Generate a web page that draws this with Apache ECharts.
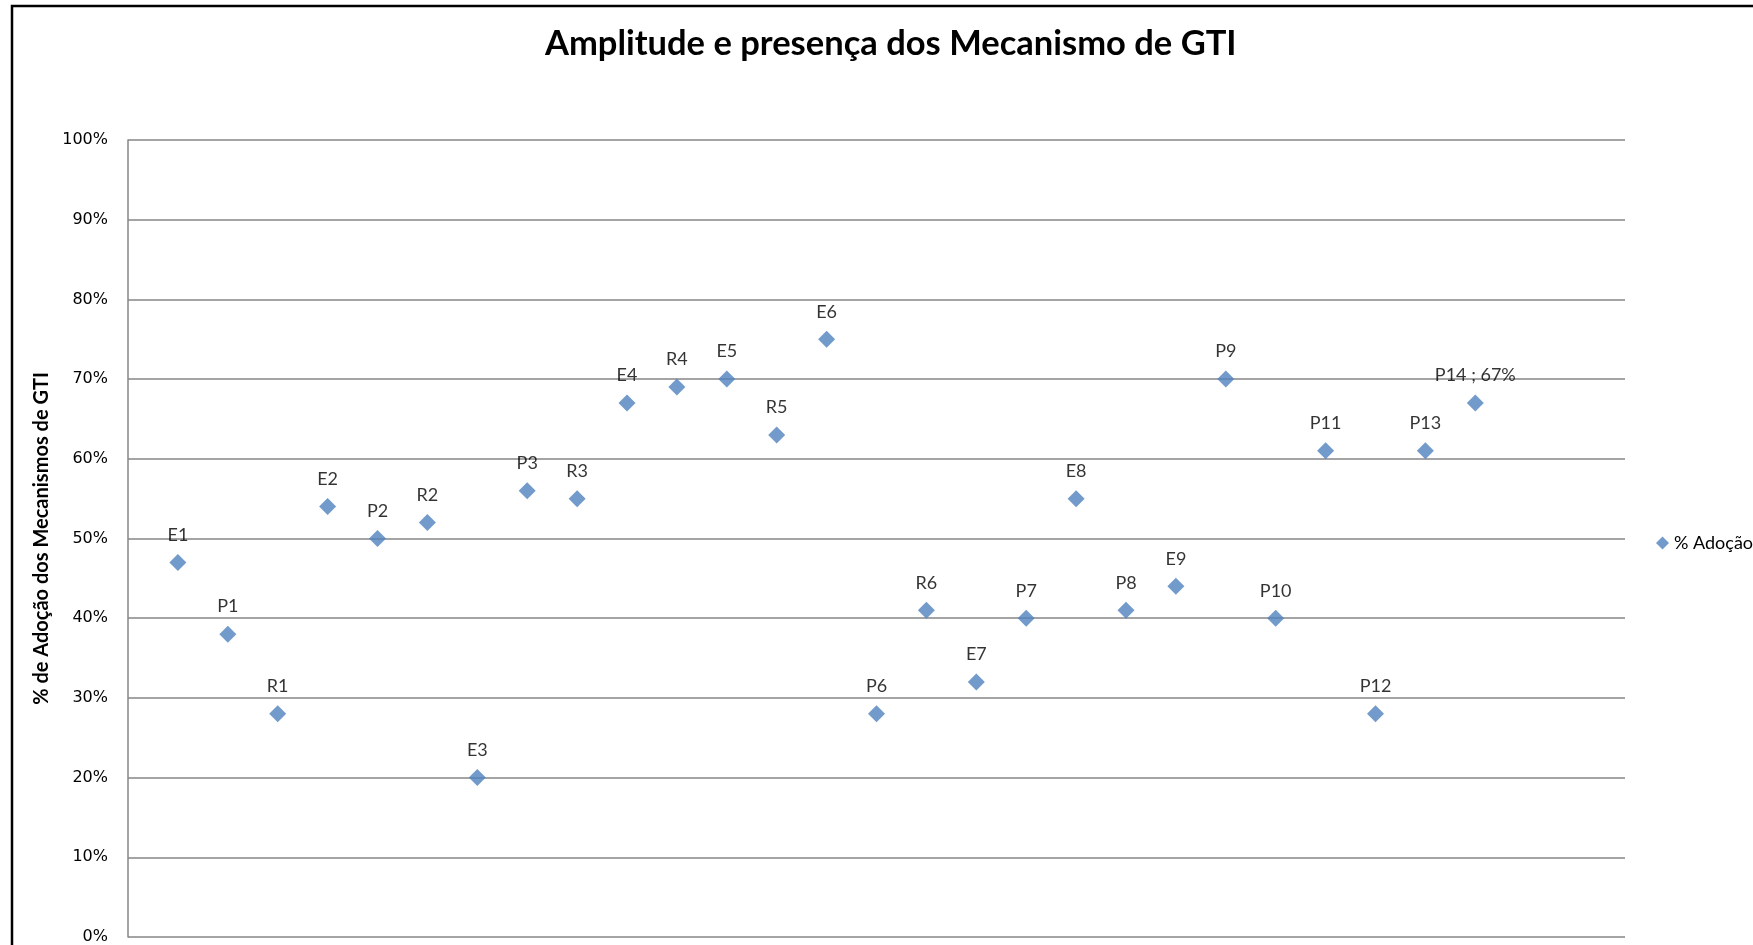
<!DOCTYPE html>
<html>
<head>
<meta charset="utf-8">
<script src="https://cdn.jsdelivr.net/npm/echarts@6/dist/echarts.min.js"></script>
<style>
html,body{margin:0;padding:0;background:#fff;}
#chart{width:1753px;height:945px;}
</style>
</head>
<body>
<div id="chart"></div>
<script>
// Data
const pointNames = ['E1','P1','R1','E2','P2','R2','E3','P3','R3','E4','R4','E5','R5','E6','P6','R6','E7','P7','E8','P8','E9','P9','P10','P11','P12','P13','P14'];
const xPositions = [1,2,3,4,5,6,7,8,9,10,11,12,13,14,15,16,17,18,19,20,21,22,23,24,25,26,27];
const adoptionPct = [47,38,28,54,50,52,20,56,55,67,69,70,63,75,28,41,32,40,55,41,44,70,40,61,28,61,67];
const namesWithValue = ['P14'];
const yTicks = [0,10,20,30,40,50,60,70,80,90,100];

const seriesData = pointNames.map((n, i) => ({ name: n, value: [xPositions[i], adoptionPct[i]] }));

const chart = echarts.init(document.getElementById('chart'), null, { renderer: 'canvas' });
chart.setOption({
  animation: false,
  backgroundColor: '#fff',
  title: {
    text: 'Amplitude e presença dos Mecanismo de GTI',
    left: 540,
    top: 21,
    textStyle: { fontFamily: 'Lato', fontWeight: 'bold', fontSize: 34.5, color: '#000' }
  },
  legend: {
    data: [{ name: '% Adoção', icon: 'diamond' }],
    left: 1651,
    top: 529,
    itemWidth: 13,
    itemHeight: 13,
    itemGap: 4,
    textStyle: { fontFamily: 'Lato', fontSize: 18, color: '#000' }
  },
  graphic: [{
    type: 'rect',
    shape: { x: 12, y: 6, width: 1800, height: 1000 },
    style: { fill: 'none', stroke: '#000', lineWidth: 2.5 },
    z: 100
  }],
  grid: { left: 128, top: 140, right: 128, bottom: 6, containLabel: false },
  xAxis: {
    type: 'value',
    min: 0, max: 30,
    axisLine: { show: false },
    axisTick: { show: false },
    axisLabel: { show: false },
    splitLine: { show: false }
  },
  yAxis: {
    type: 'value',
    min: yTicks[0], max: yTicks[yTicks.length - 1], interval: 10,
    name: '% de Adoção dos Mecanismos de GTI',
    nameLocation: 'middle',
    nameGap: 60,
    nameTextStyle: { fontFamily: 'Lato', fontWeight: 'bold', fontSize: 20, color: '#000' },
    axisLine: { show: true, lineStyle: { color: '#868686', width: 1.5 } },
    axisTick: { show: false },
    axisLabel: { fontFamily: 'DejaVu Sans', fontSize: 16, color: '#000', margin: 20, formatter: '{value}%' },
    splitLine: { show: true, lineStyle: { color: '#868686', width: 1.5 } }
  },
  series: [{
    name: '% Adoção',
    type: 'scatter',
    symbol: 'diamond',
    symbolSize: 17,
    itemStyle: { color: '#4F81BD' },
    data: seriesData,
    label: {
      show: true,
      position: 'top',
      distance: 10,
      fontFamily: 'Lato',
      fontSize: 18,
      color: '#000',
      formatter: p => namesWithValue.includes(p.name) ? p.name + ' ; ' + p.value[1] + '%' : p.name
    }
  }]
});
</script>
</body>
</html>
